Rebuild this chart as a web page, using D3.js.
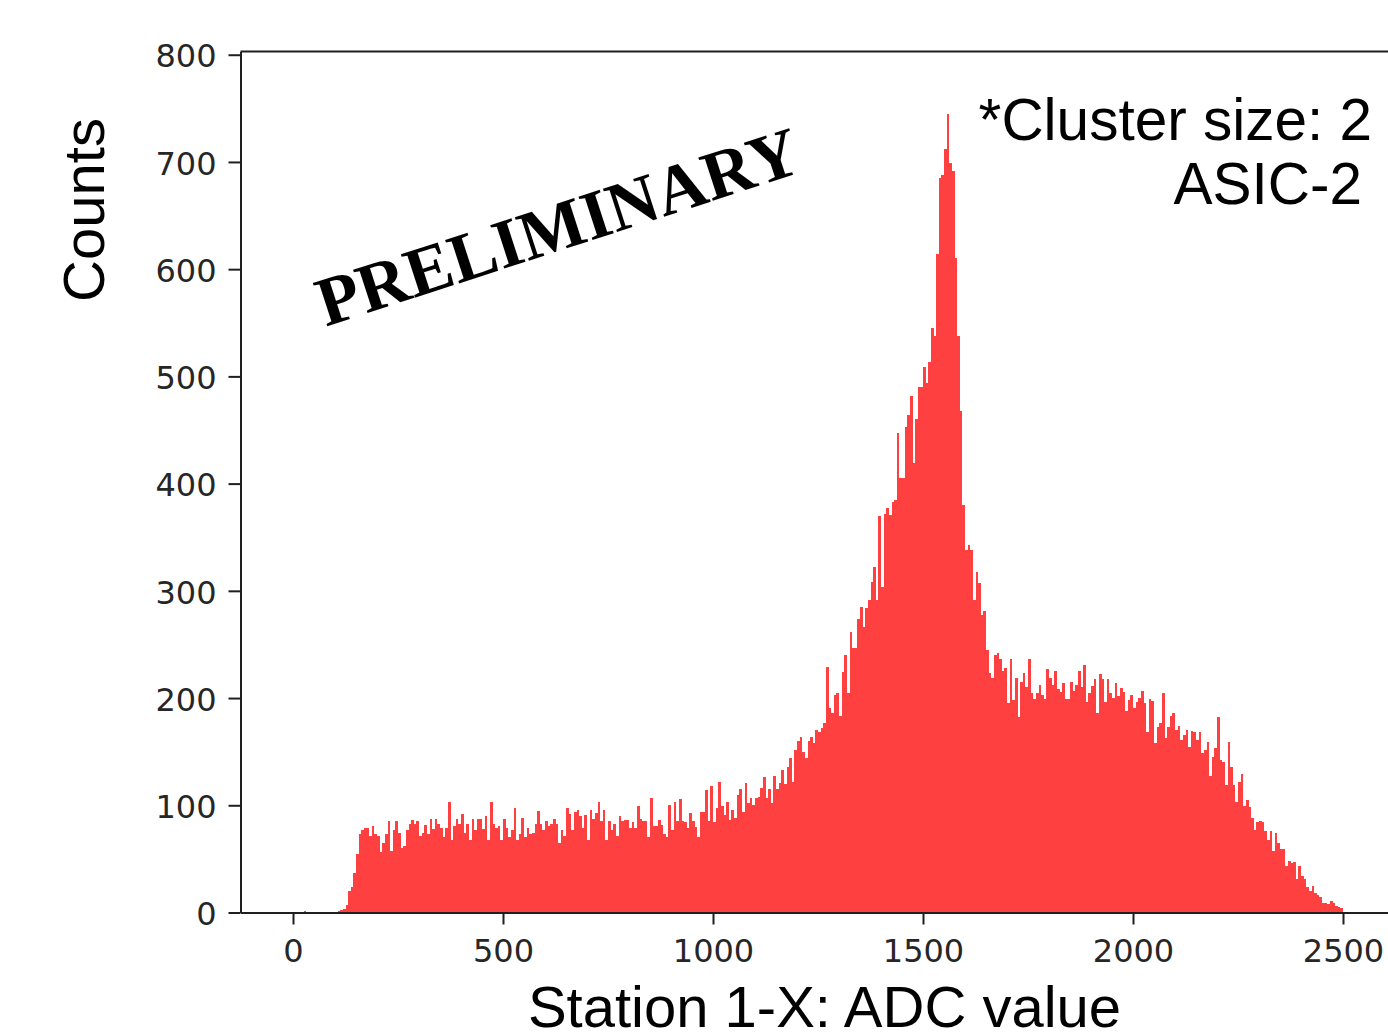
<!DOCTYPE html>
<html><head><meta charset="utf-8">
<script src="https://cdn.jsdelivr.net/npm/d3@7"></script>
<style>body{margin:0;background:#fff} svg{display:block}</style>
</head><body>
<svg id="c" width="1388" height="1033"></svg>
<script>
// histogram: 400 bins of width 6.25 ADC starting at 0
const binStart = 0;
const binWidth = 6.25;
const counts = [
  0,0,0,0,1,0,0,0,0,0,0,0,0,0,0,0,0,
  1,2,3,7,20,24,37,55,
  73,77,79,79,71,81,73,71,56,65,
  73,85,57,77,85,74,60,62,77,83,
  86,83,85,71,74,82,73,87,78,87,
  83,79,70,79,103,68,81,87,83,92,
  74,83,68,87,77,87,87,78,90,68,
  103,83,79,81,68,87,79,70,77,97,
  68,73,88,70,79,73,74,83,95,83,
  77,85,81,83,87,83,65,77,71,97,
  92,77,94,96,90,79,91,68,96,87,
  93,103,85,96,68,85,77,83,71,90,
  85,86,86,79,84,79,99,87,85,85,
  70,107,81,81,86,82,73,70,100,77,
  103,85,106,85,84,79,93,85,80,70,
  94,94,114,85,118,84,97,122,99,91,
  103,86,96,88,110,115,94,121,102,107,
  100,107,108,116,126,107,115,102,127,115,
  121,133,120,136,144,122,152,160,164,150,
  144,160,164,158,170,168,172,177,229,191,
  186,203,205,183,224,240,205,262,247,247,
  274,285,266,284,291,308,322,291,370,304,
  372,377,371,383,385,447,405,405,453,464,
  482,419,460,490,490,509,494,513,545,538,
  614,685,688,712,745,699,692,610,538,468,
  380,
  338,343,338,291,318,307,277,281,245,223,
  219,240,242,236,225,228,195,236,198,219,
  182,215,223,210,236,205,199,205,212,203,
  199,227,219,212,225,208,206,214,199,199,
  215,207,212,225,210,231,196,205,211,218,
  186,222,218,196,218,205,200,214,202,209,
  206,188,198,
  203,191,196,200,207,195,168,199,197,158,
  173,177,205,163,173,183,186,170,174,161,
  166,170,154,169,168,161,168,149,152,159,
  127,145,153,182,142,140,119,159,136,119,
  103,122,129,99,105,98,88,77,84,85,
  84,76,68,76,57,74,65,59,59,43,
  48,46,47,31,43,34,31,24,20,25,
  18,16,14,9,9,8,11,9,6,5,
  4
];
const xTicks = [0, 500, 1000, 1500, 2000, 2500];
const yTicks = [0, 100, 200, 300, 400, 500, 600, 700, 800];
const xDomain = [-125, 2625];
const yDomain = [0, 803];
const xLabel = "Station 1-X: ADC value";
const yLabel = "Counts";
const noteLines = ["*Cluster size: 2", "ASIC-2"];
const watermark = "PRELIMINARY";

const svg = d3.select("#c");
const x = d3.scaleLinear().domain(xDomain).range([240.5, 1395.5]);
const y = d3.scaleLinear().domain(yDomain).range([912.5, 51.5]);

svg.append("rect").attr("width", 1388).attr("height", 1033).attr("fill", "#fff");

// bars
svg.append("g").attr("shape-rendering", "crispEdges")
  .selectAll("rect").data(counts).join("rect")
  .attr("x", (d, i) => x(binStart + i * binWidth))
  .attr("width", (d, i) => x(binStart + (i + 1) * binWidth) - x(binStart + i * binWidth))
  .attr("y", d => y(d))
  .attr("height", d => y(0) - y(d))
  .attr("fill", "#ff4040");

const axisColor = "#1f1f1f";
function styleAxis(g) {
  g.selectAll("path.domain").attr("stroke", axisColor).attr("stroke-width", 2);
  g.selectAll(".tick line").attr("stroke", axisColor).attr("stroke-width", 2);
  g.selectAll(".tick text").attr("fill", "#262626")
    .style("font-family", "'DejaVu Sans', sans-serif").style("font-size", "32px");
}

const gx = svg.append("g").attr("transform", `translate(0,${y(0)})`)
  .call(d3.axisBottom(x).tickValues(xTicks).tickSize(12).tickSizeOuter(0).tickPadding(15).tickFormat(d3.format("d")));
styleAxis(gx);

const gy = svg.append("g").attr("transform", `translate(${x(xDomain[0])},0)`)
  .call(d3.axisLeft(y).tickValues(yTicks).tickSize(12).tickSizeOuter(0).tickPadding(12).tickFormat(d3.format("d")));
styleAxis(gy);
gy.selectAll(".tick text").attr("dy", "0.38em");

// top spine
svg.append("line")
  .attr("x1", x(xDomain[0])).attr("x2", x(xDomain[1]))
  .attr("y1", y(yDomain[1])).attr("y2", y(yDomain[1]))
  .attr("stroke", axisColor).attr("stroke-width", 2);

const sans = "'Liberation Sans', Arial, sans-serif";
svg.append("text").text(xLabel)
  .attr("x", 824.5).attr("y", 1027).attr("text-anchor", "middle")
  .style("font-family", sans).style("font-size", "58px").attr("fill", "#000");

svg.append("text").text(yLabel)
  .attr("transform", "translate(104,210) rotate(-90)").attr("text-anchor", "middle")
  .style("font-family", sans).style("font-size", "58px").attr("fill", "#000");

svg.append("text").text(noteLines[0])
  .attr("x", 1372).attr("y", 140).attr("text-anchor", "end")
  .style("font-family", sans).style("font-size", "58.5px").attr("fill", "#000");
svg.append("text").text(noteLines[1])
  .attr("x", 1362).attr("y", 204).attr("text-anchor", "end")
  .style("font-family", sans).style("font-size", "58.5px").attr("fill", "#000");

svg.append("text").text(watermark)
  .attr("transform", "translate(558,227) rotate(-18)")
  .attr("x", 0).attr("y", 23).attr("text-anchor", "middle")
  .style("font-family", "'Liberation Serif', 'Times New Roman', serif")
  .style("font-weight", "bold").style("font-size", "69.5px").attr("fill", "#000");
</script>
</body></html>
